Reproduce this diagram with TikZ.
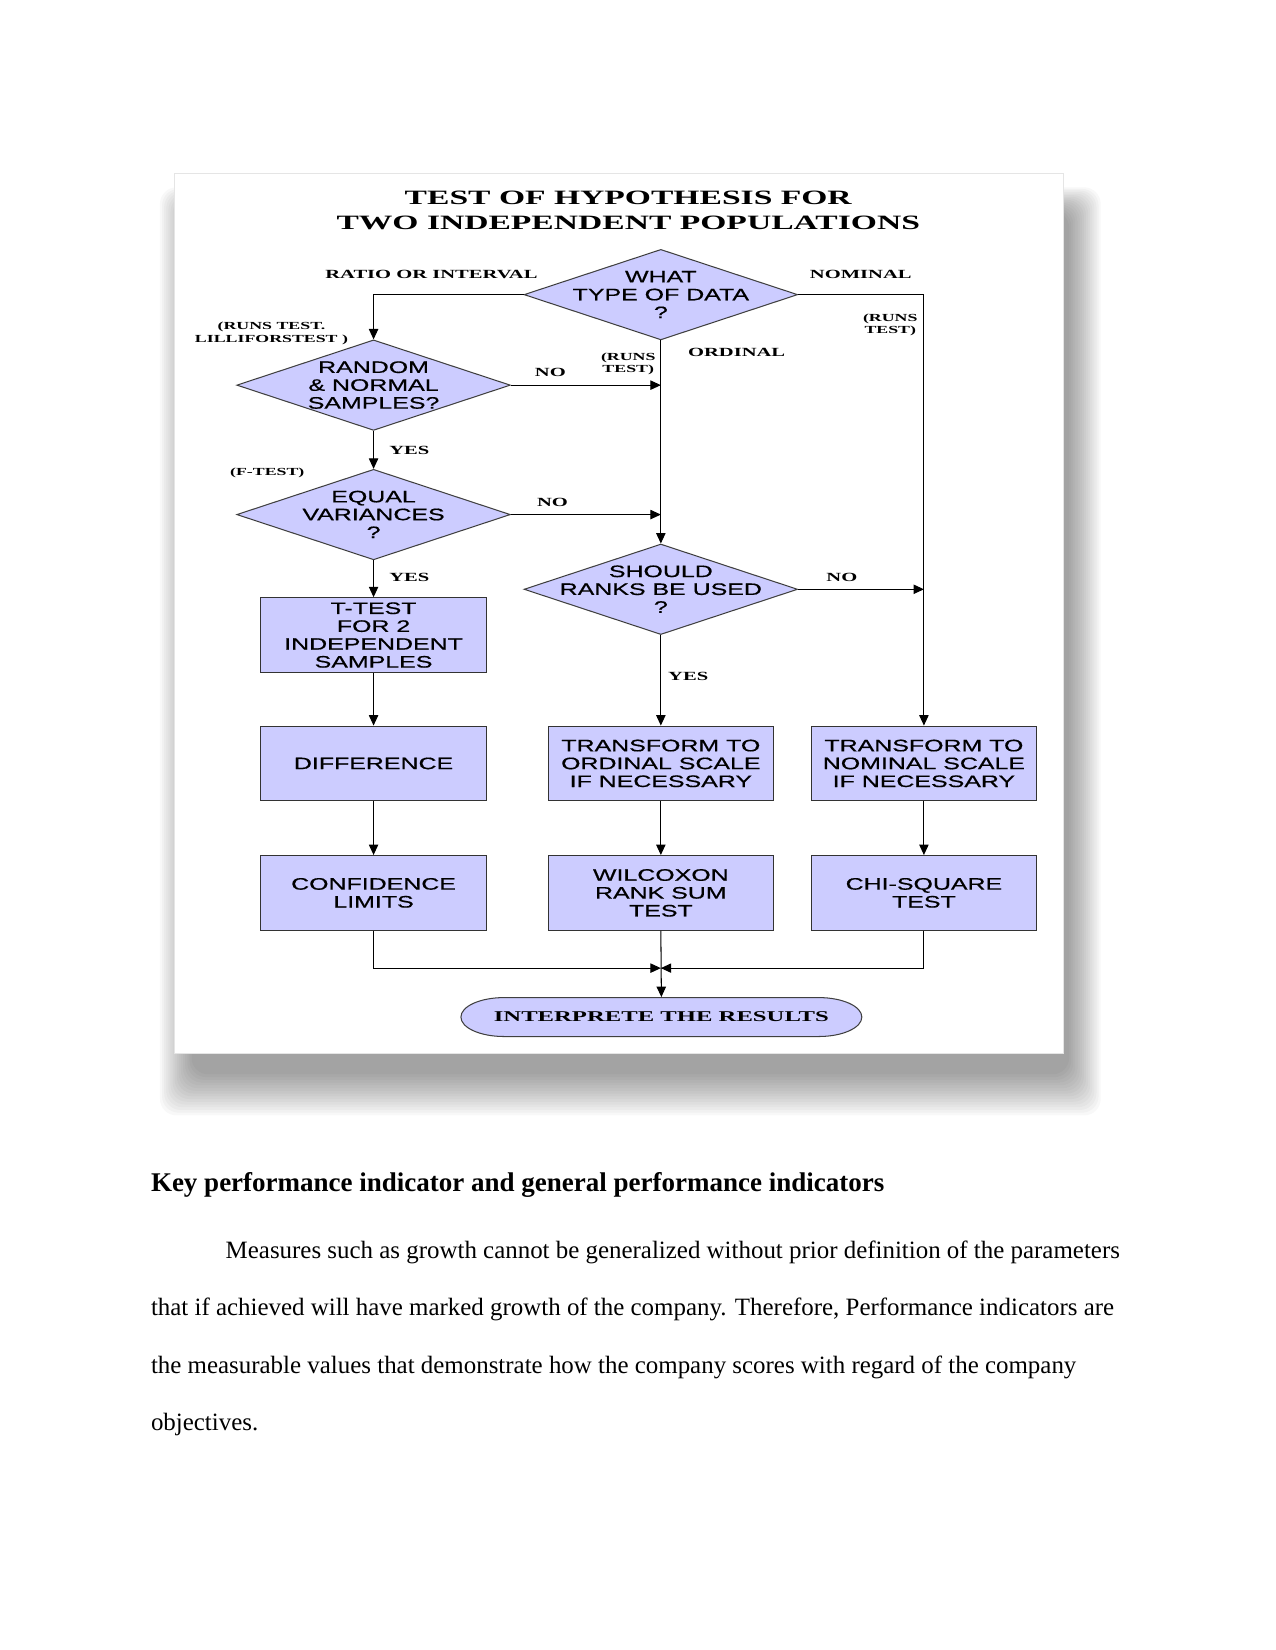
\documentclass[tikz,border=0pt]{standalone}
\usepackage{fontspec}
\setmainfont{Liberation Serif}
\newfontfamily\flowsans[FakeStretch=1.5,FakeBold=0.6]{Liberation Sans}
\newfontfamily\flowserif[FakeStretch=1.65]{Liberation Serif}
\usetikzlibrary{shapes.geometric,arrows.meta}
\definecolor{flowfill}{RGB}{204,204,255}
\def\upx{0.017813cm}
% text of a diamond takes no room, so the diamond keeps its own size
\newcommand{\diatext}[1]{\makebox[0pt]{\smash{\raisebox{-3pt}{\begin{tabular}{@{}c@{}}#1\end{tabular}}}}}
\tikzset{
  decision/.style={diamond, draw=black!75, fill=flowfill, inner sep=0,
    minimum width=260*\upx, minimum height=86*\upx,
    font=\flowsans\fontsize{8}{8.6}\selectfont},
  process/.style={rectangle, draw=black!80, fill=flowfill, inner sep=0, align=center,
    minimum width=214*\upx, minimum height=71*\upx,
    font=\flowsans\fontsize{8}{8.6}\selectfont},
  tag/.style={inner sep=0, align=center, font=\flowserif\bfseries\fontsize{6}{7}\selectfont},
  smalltag/.style={inner sep=0, align=center, font=\flowserif\bfseries\fontsize{5.2}{6}\selectfont},
  bodyline/.style={anchor=base west, inner sep=0, font=\fontsize{12}{14}\selectfont}
}
\begin{document}
\begin{tikzpicture}[x=\upx, y=-\upx, line width=0.5pt, >={Triangle[length=5pt,width=4.5pt]}]
\useasboundingbox (0,0) rectangle (1212,1568);
% frame with its shadow
\foreach \k in {0,...,15}
  \fill[black, opacity=0.027, rounded corners=8pt] (152+2*\k,178+1.5*\k) rectangle (1046-2*\k,1060-2.6*\k);
\draw[black!10, fill=white] (166,165) rectangle (1011,1001);

\node[inner sep=0, align=center, font=\flowserif\bfseries\fontsize{9.8}{11.6}\selectfont] (title) at (597,200)
{TEST OF HYPOTHESIS FOR\\TWO INDEPENDENT POPULATIONS};

\node[decision] (what) at (628,280) {\diatext{WHAT\\TYPE OF DATA\\?}};
\node[decision] (rand) at (355,366) {\diatext{RANDOM\\\& NORMAL\\SAMPLES?}};
\node[decision] (equal) at (355,489) {\diatext{EQUAL\\VARIANCES\\?}};
\node[decision] (ranks) at (628,560) {\diatext{SHOULD\\RANKS BE USED\\?}};

\node[process] (ttest) at (355,603.5) {T-TEST\\FOR 2\\INDEPENDENT\\SAMPLES};
\node[process] (diff) at (355,725.5) {DIFFERENCE};
\node[process] (conf) at (355,848.5) {CONFIDENCE\\LIMITS};
\node[process] (ordtr) at (628,725.5) {TRANSFORM TO\\ORDINAL SCALE\\IF NECESSARY};
\node[process] (wilc) at (628,848.5) {WILCOXON\\RANK SUM\\TEST};
\node[process] (nomtr) at (878,725.5) {TRANSFORM TO\\NOMINAL SCALE\\IF NECESSARY};
\node[process] (chi) at (878,848.5) {CHI-SQUARE\\TEST};

% end box
\draw[black!75, fill=flowfill] (479,948) arc[start angle=270, end angle=90, x radius=41, y radius=18.5]
  -- (778,985) arc[start angle=90, end angle=-90, x radius=41, y radius=18.5] -- cycle;
\node[inner sep=0, minimum width=299*\upx, minimum height=37*\upx,
  font=\flowserif\bfseries\fontsize{7.2}{8}\selectfont] (interp) at (628.5,966.5) {INTERPRETE THE RESULTS};

\node[tag] (lratio) at (410,261) {RATIO OR INTERVAL};
\node[tag] (lnom) at (818,261) {NOMINAL};
\node[smalltag] (lruns) at (258,317) {(RUNS TEST.\\LILLIFORSTEST )};
\node[smalltag] (lrunsr) at (846,309) {(RUNS\\TEST)};
\node[smalltag] (lrunsm) at (597,346) {(RUNS\\TEST)};
\node[tag] (lord) at (700,335) {ORDINAL};
\node[tag] (lnoa) at (523,354) {NO};
\node[tag] (lyesa) at (389,428) {YES};
\node[smalltag] (lftest) at (254,449) {(F-TEST)};
\node[tag] (lnob) at (525,477) {NO};
\node[tag] (lyesb) at (389,549) {YES};
\node[tag] (lnoc) at (800,549) {NO};
\node[tag] (lyesc) at (654,643) {YES};

\draw[->] (what.west) -| (rand.north);
\draw[->] (what.east) -| (nomtr.north);
\draw[->] (what.south) -- (ranks.north);
\draw[->] (rand.east) -- (rand.east -| what.south);
\draw[->] (rand.south) -- (equal.north);
\draw[->] (equal.east) -- (equal.east -| what.south);
\draw[->] (equal.south) -- (ttest.north);
\draw[->] (ranks.east) -- (ranks.east -| nomtr.north);
\draw[->] (ranks.south) -- (ordtr.north);
\draw[->] (ttest) -- (diff);
\draw[->] (diff) -- (conf);
\draw[->] (ordtr) -- (wilc);
\draw[->] (nomtr) -- (chi);
\coordinate (merge) at (628,920);
\draw[->] (conf.south) |- (merge);
\draw[->] (chi.south) |- (merge);
\draw[->] (wilc.south) -- (interp.north);

% text of the page below the figure
\node[bodyline, font=\bfseries\fontsize{13}{15}\selectfont] (head) at (143,1132)
{Key performance indicator and general performance indicators};
\node[bodyline] (pa) at (214,1196) {Measures such as growth cannot be generalized without prior definition of the parameters};
\node[bodyline] (pb) at (143,1250) {that if achieved will have marked growth of the company. Therefore, Performance indicators are};
\node[bodyline] (pc) at (143,1305) {the measurable values that demonstrate how the company scores with regard of the company};
\node[bodyline] (pd) at (143,1359) {objectives.};
\end{tikzpicture}
\end{document}
